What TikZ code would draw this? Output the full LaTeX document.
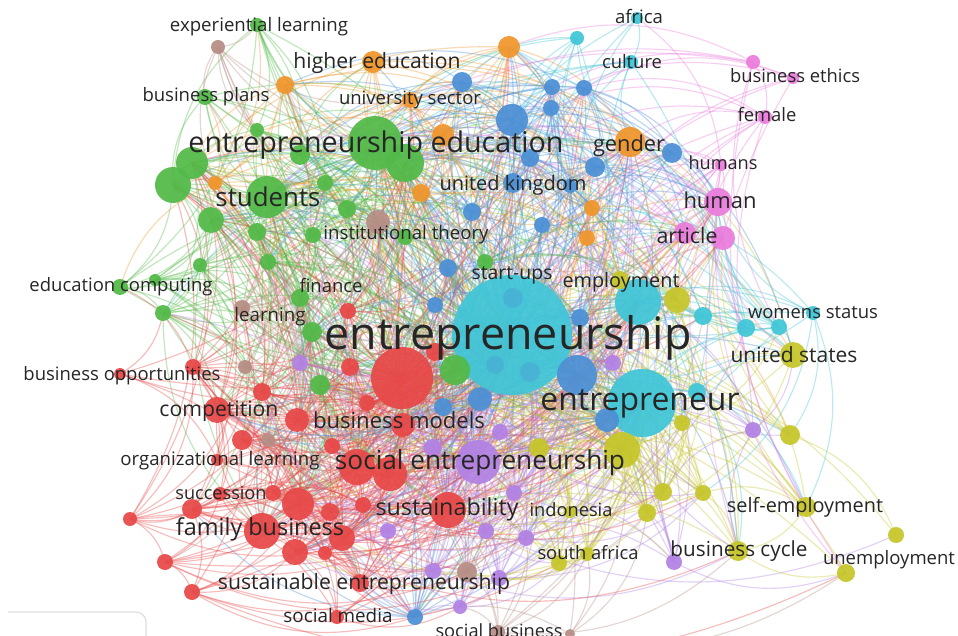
\documentclass[tikz,border=0pt]{standalone}
\usepackage{fontspec}
\setmainfont{Open Sans}
\usepackage{graphicx}
\usetikzlibrary{backgrounds}
\definecolor{cg}{RGB}{82,186,72}
\definecolor{cr}{RGB}{232,72,72}
\definecolor{cc}{RGB}{64,198,216}
\definecolor{cct}{RGB}{72,178,212}
\definecolor{cb}{RGB}{76,144,214}
\definecolor{co}{RGB}{240,150,44}
\definecolor{cp}{RGB}{234,124,220}
\definecolor{cy}{RGB}{198,198,42}
\definecolor{cv}{RGB}{178,130,228}
\definecolor{cw}{RGB}{182,142,132}
\definecolor{lbltext}{RGB}{38,38,38}
\definecolor{framegray}{RGB}{222,222,222}
\newcounter{nodecount}
\newcommand\nd[4]{%
  \stepcounter{nodecount}%
  \edef\ndk{\arabic{nodecount}}%
  \expandafter\xdef\csname nx\ndk\endcsname{#1}%
  \expandafter\xdef\csname ny\ndk\endcsname{#2}%
  \expandafter\xdef\csname nr\ndk\endcsname{#3}%
  \expandafter\xdef\csname nc\ndk\endcsname{#4}%
  \node[dot, fill=#4, minimum size=#3*2pt] (n\ndk) at (#1,#2) {};%
}
\newcommand\lbl[5]{\node[lbl] (#1) at (#2,#3) {\resizebox{#4pt}{!}{#5}};}
\begin{document}
\begin{tikzpicture}[x=1pt,y=-1pt,
  dot/.style={circle, inner sep=0pt, draw=none, fill opacity=0.93},
  lbl/.style={inner sep=0pt, text=lbltext},
  edge/.style={line width=1.15pt, draw opacity=0.36}]
\useasboundingbox (0,0) rectangle (958,636);
% ---- big nodes
\nd{512}{335}{60}{cc}
\nd{642}{403}{34}{cc}
\nd{402}{378}{31}{cr}
\nd{375}{143}{27}{cg}
\nd{638}{302}{23}{cc}
\nd{478}{462}{22}{cv}
\nd{267}{197}{21}{cg}
\nd{577}{375}{20}{cb}
\nd{405}{163}{19}{cg}
\nd{173}{185}{18}{cg}
\nd{622}{450}{18}{cy}
\nd{357}{467}{18}{cr}
\nd{448}{510}{18}{cr}
\nd{262}{531}{18}{cr}
\nd{390}{474}{17}{cr}
% ---- green
\nd{257}{25}{7}{cg}
\nd{205}{97}{8}{cg}
\nd{257}{130}{7}{cg}
\nd{300}{155}{10}{cg}
\nd{192}{163}{16}{cg}
\nd{325}{183}{8}{cg}
\nd{211}{220}{13}{cg}
\nd{347}{209}{9}{cg}
\nd{257}{232}{9}{cg}
\nd{313}{235}{8}{cg}
\nd{405}{237}{8}{cg}
\nd{200}{265}{7}{cg}
\nd{268}{262}{8}{cg}
\nd{155}{280}{6}{cg}
\nd{120}{287}{8}{cg}
\nd{300}{298}{9}{cg}
\nd{163}{313}{8}{cg}
\nd{312}{332}{10}{cg}
\nd{320}{385}{10}{cg}
\nd{455}{370}{15}{cg}
\nd{485}{262}{8}{cg}
% ---- orange
\nd{285}{85}{9}{co}
\nd{373}{62}{11}{co}
\nd{410}{100}{8}{co}
\nd{443}{135}{11}{co}
\nd{509}{47}{11}{co}
\nd{215}{183}{7}{co}
\nd{421}{193}{9}{co}
\nd{630}{142}{15}{co}
\nd{592}{208}{8}{co}
\nd{587}{238}{8}{co}
% ---- blue
\nd{462}{82}{10}{cb}
\nd{512}{120}{16}{cb}
\nd{552}{87}{8}{cb}
\nd{584}{88}{8}{cb}
\nd{551}{108}{8}{cb}
\nd{530}{158}{9}{cb}
\nd{595}{167}{10}{cb}
\nd{672}{153}{10}{cb}
\nd{513}{183}{10}{cb}
\nd{570}{186}{7}{cb}
\nd{472}{212}{9}{cb}
\nd{542}{225}{8}{cb}
\nd{448}{268}{9}{cb}
\nd{435}{305}{8}{cb}
\nd{580}{318}{9}{cb}
\nd{480}{399}{12}{cb}
\nd{443}{407}{9}{cb}
\nd{607}{420}{12}{cb}
\nd{415}{617}{8}{cb}
% ---- cyan
\nd{577}{38}{7}{cc}
\nd{637}{18}{6}{cc}
\nd{631}{62}{7}{cc}
\nd{703}{316}{9}{cc}
\nd{746}{328}{9}{cc}
\nd{779}{327}{8}{cc}
\nd{813}{313}{7}{cc}
\nd{697}{392}{9}{cc}
\nd{513}{298}{10}{cct}
\nd{495}{365}{9}{cct}
\nd{530}{372}{10}{cct}
% ---- yellow
\nd{620}{280}{9}{cy}
\nd{677}{300}{13}{cy}
\nd{793}{355}{13}{cy}
\nd{682}{423}{8}{cy}
\nd{790}{435}{10}{cy}
\nd{539}{448}{10}{cy}
\nd{663}{492}{9}{cy}
\nd{703}{493}{8}{cy}
\nd{647}{513}{9}{cy}
\nd{570}{512}{6}{cy}
\nd{806}{507}{10}{cy}
\nd{896}{535}{8}{cy}
\nd{846}{573}{9}{cy}
\nd{738}{551}{10}{cy}
\nd{559}{563}{8}{cy}
\nd{587}{554}{7}{cy}
% ---- purple
\nd{300}{363}{8}{cv}
\nd{613}{363}{8}{cv}
\nd{753}{430}{8}{cv}
\nd{500}{432}{8}{cv}
\nd{433}{448}{9}{cv}
\nd{514}{493}{8}{cv}
\nd{388}{531}{8}{cv}
\nd{486}{531}{8}{cv}
\nd{526}{538}{8}{cv}
\nd{433}{571}{8}{cv}
\nd{499}{578}{8}{cv}
\nd{460}{607}{7}{cv}
\nd{674}{562}{8}{cv}
% ---- pink
\nd{753}{62}{7}{cp}
\nd{793}{78}{6}{cp}
\nd{765}{117}{7}{cp}
\nd{721}{165}{6}{cp}
\nd{718}{202}{14}{cp}
\nd{723}{238}{12}{cp}
\nd{685}{233}{11}{cp}
% ---- brown
\nd{218}{47}{7}{cw}
\nd{378}{222}{12}{cw}
\nd{242}{308}{8}{cw}
\nd{245}{367}{7}{cw}
\nd{268}{440}{7}{cw}
\nd{467}{572}{10}{cw}
\nd{498}{632}{7}{cw}
\nd{570}{634}{5}{cw}
% ---- red
\nd{348}{311}{8}{cr}
\nd{350}{367}{9}{cr}
\nd{435}{352}{9}{cr}
\nd{193}{367}{8}{cr}
\nd{120}{374}{6}{cr}
\nd{262}{392}{9}{cr}
\nd{367}{403}{8}{cr}
\nd{217}{410}{13}{cr}
\nd{297}{420}{12}{cr}
\nd{403}{425}{12}{cr}
\nd{242}{440}{10}{cr}
\nd{332}{446}{8}{cr}
\nd{217}{460}{6}{cr}
\nd{220}{494}{7}{cr}
\nd{273}{493}{8}{cr}
\nd{298}{504}{16}{cr}
\nd{330}{512}{9}{cr}
\nd{363}{505}{8}{cr}
\nd{192}{509}{10}{cr}
\nd{342}{538}{13}{cr}
\nd{295}{552}{13}{cr}
\nd{325}{553}{7}{cr}
\nd{130}{519}{7}{cr}
\nd{165}{562}{8}{cr}
\nd{192}{592}{8}{cr}
\nd{360}{583}{9}{cr}
\nd{337}{617}{7}{cr}
\edef\NN{\arabic{nodecount}}
\pgfmathtruncatemacro\NNm{\NN-1}
% ---- connectors
\begin{pgfonlayer}{background}
\fill[white] (0,0) rectangle (958,636);
\pgfmathsetseed{11}
\foreach \i in {1,...,\NNm}{
  \pgfmathtruncatemacro\jstart{\i+1}
  \foreach \j in {\jstart,...,\NN}{
    \edef\xa{\csname nx\i\endcsname}\edef\ya{\csname ny\i\endcsname}\edef\ra{\csname nr\i\endcsname}
    \edef\xb{\csname nx\j\endcsname}\edef\yb{\csname ny\j\endcsname}\edef\rb{\csname nr\j\endcsname}
    \pgfmathsetmacro\dd{veclen(\xa-\xb,\ya-\yb)}
    \pgfmathsetmacro\qq{0.6*pow(sqrt(\ra*\rb)/8,1.2)*exp(-\dd/(75+3.5*(\ra+\rb)))}
    \pgfmathtruncatemacro\hit{rnd<\qq}
    \ifnum\hit=1
      \ifdim\ra pt<\rb pt \edef\ec{\csname nc\i\endcsname}\else\edef\ec{\csname nc\j\endcsname}\fi
      \draw[edge, draw=\ec] (n\i.center) to[bend left=24] (n\j.center);
    \fi
  }
}
\end{pgfonlayer}
% ---- frame corner
\draw[framegray, line width=1.2pt, rounded corners=10pt] (8,612) -- (146,612) -- (146,645);
% ---- labels
\lbl{l1}{259}{27}{178}{experiential learning}
\lbl{l2}{206}{97}{127}{business plans}
\lbl{l3}{377}{63}{167}{higher education}
\lbl{l4}{410}{100}{142}{university sector}
\lbl{l5}{376}{145}{375}{entrepreneurship education}
\lbl{l6}{268}{197}{105}{students}
\lbl{l7}{406}{235}{165}{institutional theory}
\lbl{l8}{121}{287}{183}{education computing}
\lbl{l9}{331}{286}{63}{finance}
\lbl{l10}{270}{317}{71}{learning}
\lbl{l11}{122}{376}{197}{business opportunities}
\lbl{l12}{219}{411}{119}{competition}
\lbl{l13}{399}{420}{172}{business models}
\lbl{l14}{220}{461}{199}{organizational learning}
\lbl{l15}{480}{463}{290}{social entrepreneurship}
\lbl{l16}{221}{493}{91}{succession}
\lbl{l17}{447}{509}{143}{sustainability}
\lbl{l18}{260}{529}{168}{family business}
\lbl{l19}{364}{584}{292}{sustainable entrepreneurship}
\lbl{l20}{338}{615}{109}{social media}
\lbl{l21}{499}{631}{127}{social business}
\lbl{l22}{508}{338}{367}{entrepreneurship}
\lbl{l23}{640}{404}{199}{entrepreneur}
\lbl{l24}{512}{275}{81}{start-ups}
\lbl{l25}{621}{282}{117}{employment}
\lbl{l26}{513}{185}{147}{united kingdom}
\lbl{l27}{629}{146}{72}{gender}
\lbl{l28}{639}{16}{48}{africa}
\lbl{l29}{632}{62}{60}{culture}
\lbl{l30}{795}{76}{130}{business ethics}
\lbl{l31}{767}{115}{59}{female}
\lbl{l32}{723}{163}{69}{humans}
\lbl{l33}{720}{200}{73}{human}
\lbl{l34}{687}{236}{61}{article}
\lbl{l35}{813}{313}{130}{womens status}
\lbl{l36}{794}{355}{127}{united states}
\lbl{l37}{571}{510}{83}{indonesia}
\lbl{l38}{588}{553}{101}{south africa}
\lbl{l39}{739}{551}{137}{business cycle}
\lbl{l40}{805}{507}{156}{self-employment}
\lbl{l41}{889}{560}{132}{unemployment}
\end{tikzpicture}
\end{document}
